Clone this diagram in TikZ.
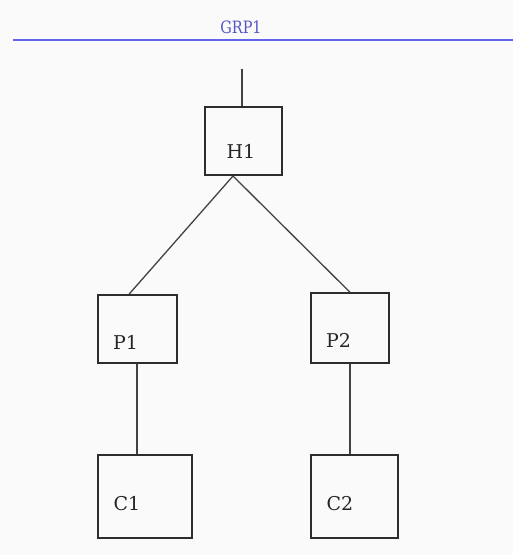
\documentclass[tikz,border=0pt]{standalone}
\usepackage{fontspec}
\setmainfont{DejaVu Serif}
\definecolor{grpblue}{RGB}{100,100,235}
\definecolor{grptext}{RGB}{85,85,200}
\definecolor{boxline}{RGB}{45,45,45}
\begin{document}
\begin{tikzpicture}[x=1pt,y=-1pt,
  boxnode/.style={draw=boxline,line width=1.5pt,rectangle,inner sep=0pt},
  lbl/.style={inner sep=0pt,text=black!85,font=\fontsize{19}{19}\selectfont},
  conn/.style={draw=boxline!90,line width=1.3pt}]
\fill[white!98!black] (0,0) rectangle (513,555);
\useasboundingbox (0,0) rectangle (513,555);
% group header
\coordinate (gl) at (13,40);
\coordinate (gr) at (513,40);
\draw[grpblue,line width=2.2pt] (gl) -- (gr);
\node[inner sep=0pt,text=grptext,font=\fontsize{17}{17}\selectfont,xscale=0.85] (grp) at (241,27.5) {GRP1};
% boxes
\node[boxnode,minimum width=77pt,minimum height=68pt] (H1) at (243.5,141) {};
\node[boxnode,minimum width=79pt,minimum height=68pt] (P1) at (137.5,329) {};
\node[boxnode,minimum width=78pt,minimum height=70pt] (P2) at (350,328) {};
\node[boxnode,minimum width=94pt,minimum height=83pt] (C1) at (145,496.5) {};
\node[boxnode,minimum width=87pt,minimum height=83pt] (C2) at (354.5,496.5) {};
% labels
\node[lbl] (H1t) at (241,151) {H1};
\node[lbl] (P1t) at (125.5,342) {P1};
\node[lbl] (P2t) at (338.5,340) {P2};
\node[lbl] (C1t) at (127,504) {C1};
\node[lbl] (C2t) at (340,504) {C2};
% connectors
\coordinate (stub) at (242,69);
\coordinate (hb) at (233,176);
\draw[conn] (stub) -- (H1.north -| stub);
\draw[conn] (hb) -- (P1.north -| 129,0);
\draw[conn] (hb) -- (P2.north);
\draw[conn] (P1.south -| 137,0) -- (C1.north -| 137,0);
\draw[conn] (P2.south) -- (C2.north -| P2.south);
\end{tikzpicture}
\end{document}
